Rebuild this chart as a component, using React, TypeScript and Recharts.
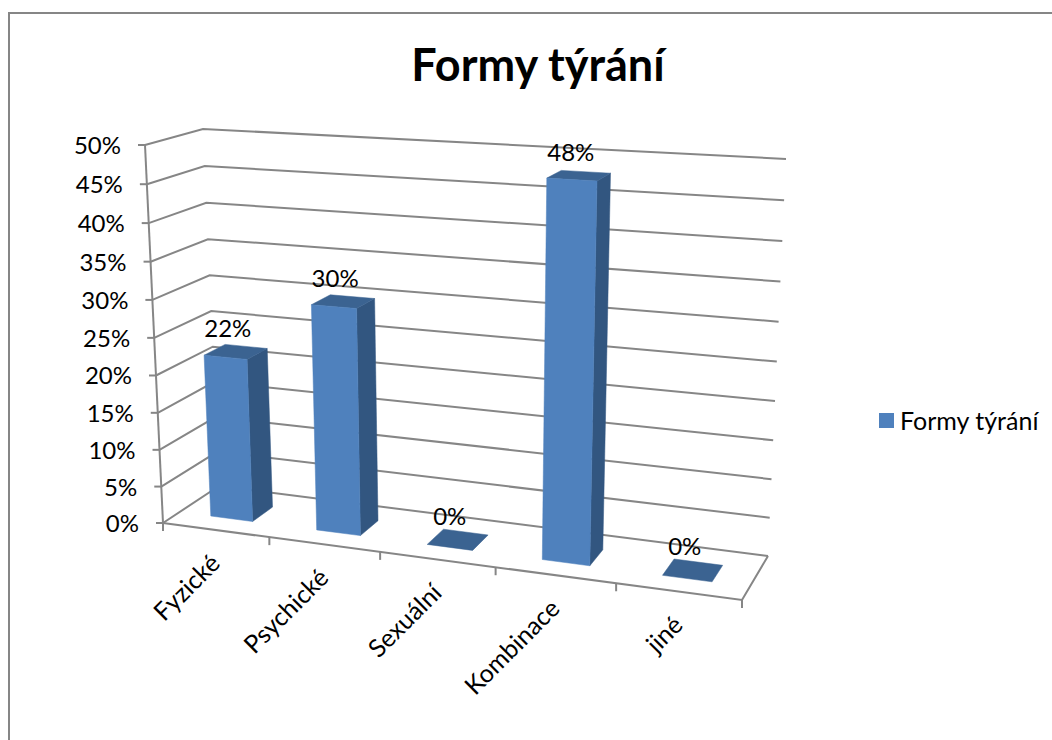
import { Bar, BarChart, CartesianGrid, LabelList, Legend, XAxis, YAxis } from "recharts"

const categories = ["Fyzické", "Psychické", "Sexuální", "Kombinace", "jiné"]
const values = [22, 30, 0, 48, 0]
const yTicks = [0, 5, 10, 15, 20, 25, 30, 35, 40, 45, 50]
const chartData = categories.map((name, i) => ({ name, value: values[i] }))

const FONT = "Lato, 'Open Sans', sans-serif"
const GRID = "#868686"
const WIDTH = 1052
const HEIGHT = 740
const AXIS_SIZE = 30
// flat plot box recharts lays out; everything is then projected to the 3D look
const PLOT = { left: 100, top: 100, width: 600, height: 400 }

// screen corners of the chart box: [u, d] => point, floor and ceiling
const FLOOR = { fl: [163, 523], fr: [742, 600], bl: [219, 486], br: [768, 556] }
const CEIL = { fl: [145, 145], fr: [759, 180], bl: [203, 129], br: [786, 159] }

const warp = (t: number, k: number) => (t * k) / (1 + (k - 1) * t)
const mix = (a: number, b: number, t: number) => a + (b - a) * t

function project(u: number, v: number, d: number) {
  const uu = warp(u, 0.9)
  const vv = warp(v, 0.96)
  const corner = (c: typeof FLOOR, i: number) =>
    mix(mix(c.fl[i], c.fr[i], uu), mix(c.bl[i], c.br[i], uu), d)
  return [mix(corner(FLOOR, 0), corner(CEIL, 0), vv), mix(corner(FLOOR, 1), corner(CEIL, 1), vv)]
}

const toU = (x: number) => (x - PLOT.left) / PLOT.width
const toV = (y: number) => (PLOT.top + PLOT.height - y) / PLOT.height
const pts = (list: number[][]) => list.map((p) => p.map((n) => n.toFixed(1)).join(",")).join(" ")

const BAR_D = [0.3, 0.68]

function GridLine(props: any) {
  const v = toV(props.y1)
  const isFloor = Math.abs(v) < 0.001
  return (
    <g>
      <polyline
        points={pts([project(0, v, 0), project(0, v, 1), project(1, v, 1)])}
        fill="none"
        stroke={GRID}
        strokeWidth={2}
      />
      {isFloor && (
        <polyline
          points={pts([project(0, 0, 0), project(1, 0, 0), project(1, 0, 1)])}
          fill="none"
          stroke={GRID}
          strokeWidth={2}
        />
      )}
      {isFloor && (
        <polyline points={pts([project(0, 0, 0), project(0, 1, 0)])} fill="none" stroke={GRID} strokeWidth={2} />
      )}
    </g>
  )
}

function Bar3D(props: any) {
  const { x, width, y, height } = props
  const u0 = toU(x)
  const u1 = toU(x + width)
  const top = toV(y)
  const base = toV(y + height)
  const [d0, d1] = BAR_D
  const front = [project(u0, base, d0), project(u1, base, d0), project(u1, top, d0), project(u0, top, d0)]
  const side = [project(u1, base, d0), project(u1, base, d1), project(u1, top, d1), project(u1, top, d0)]
  const lid = [project(u0, top, d0), project(u1, top, d0), project(u1, top, d1), project(u0, top, d1)]
  return (
    <g>
      {top > 0 && <polygon points={pts(side)} fill="#325680" stroke="#325680" strokeWidth={0.5} />}
      <polygon points={pts(lid)} fill="#3B6391" stroke="#3B6391" strokeWidth={0.5} />
      {top > 0 && <polygon points={pts(front)} fill="#4F81BD" stroke="#4F81BD" strokeWidth={0.5} />}
    </g>
  )
}

function BarLabel(props: any) {
  const { x, y, width, value } = props
  const [px, py] = project(toU(x + width / 2), toV(y), (BAR_D[0] + BAR_D[1]) / 2)
  return (
    <text x={px - 8} y={py - 15} textAnchor="middle" fontFamily={FONT} fontSize={24} fill="#000">
      {value}%
    </text>
  )
}

function YTick(props: any) {
  const { y, payload } = props
  const [px, py] = project(0, toV(y), 0)
  return (
    <g>
      <line x1={px - 7} y1={py} x2={px} y2={py} stroke={GRID} strokeWidth={2} />
      <text x={px - 24} y={py + 9} textAnchor="end" fontFamily={FONT} fontSize={24} fill="#000">
        {payload.value}%
      </text>
    </g>
  )
}

function XTick(props: any) {
  const { x, payload, index, visibleTicksCount } = props
  const band = PLOT.width / categories.length
  const mid = project(toU(x), 0, 0)
  const left = project(toU(x - band / 2), 0, 0)
  const right = project(toU(x + band / 2), 0, 0)
  const lx = mid[0] + 6
  const ly = mid[1] + 35
  return (
    <g>
      <line x1={left[0]} y1={left[1]} x2={left[0]} y2={left[1] + 8} stroke={GRID} strokeWidth={2} />
      {index === visibleTicksCount - 1 && (
        <line x1={right[0]} y1={right[1]} x2={right[0]} y2={right[1] + 8} stroke={GRID} strokeWidth={2} />
      )}
      <text
        x={lx}
        y={ly}
        textAnchor="end"
        fontFamily={FONT}
        fontSize={25}
        fill="#000"
        transform={`rotate(-45 ${lx} ${ly})`}
      >
        {payload.value}
      </text>
    </g>
  )
}

function LegendBox() {
  return (
    <div style={{ display: "flex", alignItems: "center", fontFamily: FONT, fontSize: 25, color: "#000" }}>
      <span style={{ width: 15, height: 15, background: "#4F81BD", marginRight: 6 }} />
      <span>Formy týrání</span>
    </div>
  )
}

export default function App() {
  return (
    <div style={{ position: "absolute", left: 0, top: 0, width: WIDTH, height: HEIGHT, background: "#fff", overflow: "hidden" }}>
      <div
        style={{
          position: "absolute",
          left: 8,
          top: 12,
          width: 1100,
          height: 800,
          border: `2px solid ${GRID}`,
        }}
      />
      <div style={{ position: "absolute", left: 0, top: 0 }}>
        <BarChart
          width={WIDTH}
          height={HEIGHT}
          data={chartData}
          barCategoryGap="30%"
          margin={{
            left: PLOT.left - AXIS_SIZE,
            top: PLOT.top,
            right: WIDTH - PLOT.left - PLOT.width,
            bottom: HEIGHT - PLOT.top - PLOT.height - AXIS_SIZE,
          }}
        >
          <text x={538} y={81} textAnchor="middle" fontFamily={FONT} fontSize={45} fontWeight={700} fill="#000">
            Formy týrání
          </text>
          <CartesianGrid vertical={false} horizontal={GridLine} />
          <XAxis dataKey="name" height={AXIS_SIZE} axisLine={false} tickLine={false} interval={0} tick={XTick} />
          <YAxis width={AXIS_SIZE} domain={[0, 50]} ticks={yTicks} axisLine={false} tickLine={false} interval={0} tick={YTick} />
          <Bar dataKey="value" name="Formy týrání" shape={Bar3D} isAnimationActive={false}>
            <LabelList dataKey="value" content={BarLabel} />
          </Bar>
          <Legend
            layout="horizontal"
            align="center"
            verticalAlign="middle"
            content={LegendBox}
            wrapperStyle={{ position: "absolute", left: 879, top: 405, width: 172 }}
          />
        </BarChart>
      </div>
    </div>
  )
}
